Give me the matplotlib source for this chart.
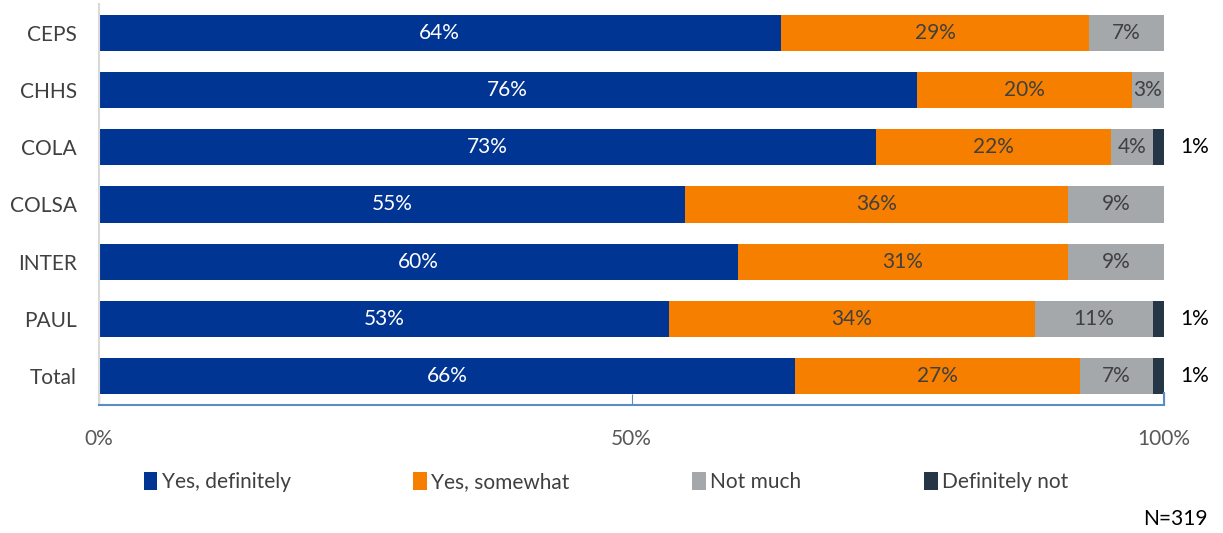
import numpy as np
import matplotlib
matplotlib.use("Agg")
import matplotlib.pyplot as plt

FONTSIZE = 15
plt.rcParams['font.family'] = ['Lato', 'DejaVu Sans']

categories = ["CEPS", "CHHS", "COLA", "COLSA", "INTER", "PAUL", "Total"]
series = ["Yes, definitely", "Yes, somewhat", "Not much", "Definitely not"]
yes_def = [64, 76, 73, 55, 60, 53, 66]
yes_some = [29, 20, 22, 36, 31, 34, 27]
not_much = [7, 3, 4, 9, 9, 11, 7]
def_not = [0, 0, 1, 0, 0, 1, 1]
xticks = [0, 50, 100]
note = "N=319"

colors = ["#003594", "#F77F00", "#A4A8AB", "#253746"]
text_colors = ["white", "#404040", "#404040", "black"]

vals = np.array([yes_def, yes_some, not_much, def_not], dtype=float)
# 100% stacked, like the source chart
shares = vals / vals.sum(axis=0) * 100

fig = plt.figure(figsize=(12.23, 5.33), dpi=100)
ax = fig.add_axes([99 / 1223, 1 - 405 / 533, 1065 / 1223, 401 / 533])

y = np.arange(len(categories))
left = np.zeros(len(categories))
for k in range(len(series)):
    ax.barh(y, shares[k], left=left, height=0.63, color=colors[k],
            label=series[k], edgecolor="none")
    for i in range(len(categories)):
        if vals[k, i] <= 0:
            continue
        if k == 3:
            ax.text(101.5, y[i], "{:.0f}%".format(vals[k, i]), ha="left",
                    va="center", fontsize=FONTSIZE, color=text_colors[k])
        else:
            ax.text(left[i] + shares[k, i] / 2, y[i], "{:.0f}%".format(vals[k, i]),
                    ha="center", va="center", fontsize=FONTSIZE, color=text_colors[k])
    left += shares[k]

ax.set_xlim(0, 100)
ax.set_ylim(len(categories) - 0.5, -0.5)
ax.set_yticks(y)
ax.set_yticklabels(categories, fontsize=FONTSIZE, color="#404040")
ax.set_xticks(xticks)
ax.set_xticklabels(["{}%".format(t) for t in xticks], fontsize=FONTSIZE, color="#595959")
ax.tick_params(axis="y", length=0, pad=16)
ax.tick_params(axis="x", direction="in", length=8, color="#5B8CC8", pad=17)

for s in ["top", "right"]:
    ax.spines[s].set_visible(False)
ax.spines["left"].set_color("#D9D9D9")
ax.spines["left"].set_linewidth(1.5)
ax.spines["bottom"].set_color("#5B8CC8")
ax.spines["bottom"].set_linewidth(1.5)
ax.axvline(100, color="#5B8CC8", lw=1.5, ymax=0.03, clip_on=False)

leg = fig.legend(loc="center", bbox_to_anchor=(606 / 1223, 1 - 482 / 533), ncol=4,
                 frameon=False, fontsize=FONTSIZE, handlelength=0.65, handleheight=1.0,
                 handletextpad=0.2, columnspacing=5.9)
for t in leg.get_texts():
    t.set_color("#404040")

fig.text(1208 / 1223, 1 - 519 / 533, note, ha="right", va="center",
         fontsize=FONTSIZE, color="black")

fig.savefig("out.png", dpi=100)
